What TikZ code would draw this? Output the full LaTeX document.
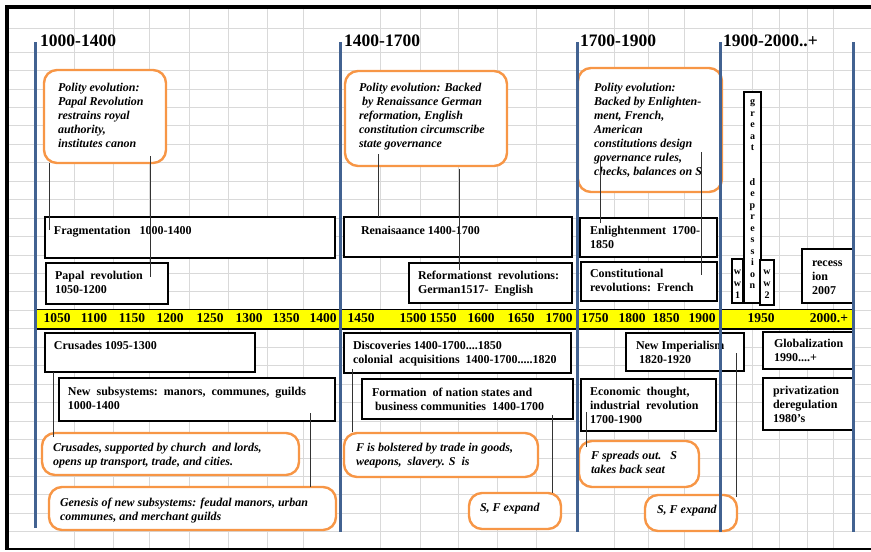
\documentclass[tikz,border=0pt]{standalone}
\usepackage{fontspec}
\setmainfont{Liberation Serif}
\usetikzlibrary{calc}
\definecolor{ribbon}{RGB}{255,255,0}
\definecolor{eraline}{RGB}{66,98,145}
\definecolor{callout}{RGB}{247,150,70}
\definecolor{gridc}{RGB}{217,217,217}
\newcommand{\boxfont}{\fontsize{12}{14}\selectfont\bfseries}
\newcommand{\notefont}{\fontsize{12}{14}\selectfont\bfseries\itshape}
\newcommand{\nxt}{\endgraf}
\begin{document}
\begin{tikzpicture}[x=1pt,y=-1pt,
    gridline/.style={gridc,line width=0.8pt},
    era/.style={eraline,line width=3pt},
    link/.style={black!80,line width=0.7pt},
    period/.style={anchor=base west,inner sep=0pt,font=\fontsize{17.5}{20}\selectfont\bfseries},
    yearlab/.style={inner sep=0pt,font=\fontsize{13.5}{16}\selectfont\bfseries},
    textblock/.style n args={4}{inner sep=0pt,outer sep=0pt,anchor=north west,fill=white,
        execute at begin node={\vbox to #2\bgroup\hsize=#1\relax\vskip#3\relax
            \leftskip=#4\relax\rightskip=0pt plus 1fil\parfillskip=0pt
            \parindent=0pt\parskip=0pt\noindent\rule{0pt}{8pt}},
        execute at end node={\nxt\vfil\egroup}},
    event/.style n args={4}{textblock={#1}{#2}{#3}{#4},draw=black,line width=2.4pt,font=\boxfont},
    note/.style n args={4}{textblock={#1}{#2}{#3}{#4},draw=callout,line width=2.4pt,rounded corners=13pt,font=\notefont},
    letters/.style={font=\fontsize{10}{12}\selectfont\bfseries}]
\useasboundingbox (0,0) rectangle (871,552);
\foreach \x in {74,113,149,189,228,267,303,380,420,458,497,536,614,648,684,752,779,807,833} {
        \draw[gridline] (\x,9) -- (\x,549);
    }
\draw[gridline] (9,28) -- (871,28);
\foreach \i in {0,...,26} {
        \draw[gridline] (9,{52+18.45*\i}) -- (871,{52+18.45*\i});
    }
\draw[line width=4pt] (871,7) -- (7,7) -- (7,549);
\draw[line width=2.4pt] (5,549) -- (871,549);

\fill[ribbon] (35,309) rectangle (853,328);
\draw[line width=0.8pt] (35,309) -- (853,309);
\draw[line width=2pt] (35,329) -- (853,329);
\foreach \x/\yr [count=\i] in {57/1050,94/1100,132/1150,170/1200,210/1250,249/1300,286/1350,323/1400,
        361/1450,413/1500,443/1550,481/1600,521/1650,559/1700,
        595/1750,632/1800,666/1850,702/1900,761/1950,829/2000.+} {
        \node[yearlab] (yr\i) at (\x,318.5) {\yr};
    }

\node[period] (eraA) at (40,46) {1000-1400};
\node[period] (eraB) at (344,46) {1400-1700};
\node[period] (eraC) at (580,46) {1700-1900};
\node[period] (eraD) at (723,46) {1900-2000..+};

\node[note={122pt}{93pt}{13pt}{14pt}] (polA) at (44,70) {Polity evolution:\nxt Papal Revolution\nxt restrains royal\nxt authority,\nxt institutes canon};
\node[note={162pt}{95pt}{12pt}{14pt}] (polB) at (345,71) {Polity evolution: Backed\nxt\ by Renaissance German\nxt reformation, English\nxt constitution circumscribe\nxt state governance};
\node[note={144pt}{124pt}{15pt}{16pt}] (polC) at (578,68) {Polity evolution:\nxt Backed by Enlighten-\nxt ment, French,\nxt American\nxt constitutions design\nxt governance rules,\nxt checks, balances on S};

\node[event={290pt}{41pt}{9pt}{9pt}] (frag) at (45,217) {Fragmentation\ \ \ 1000-1400};
\node[event={122pt}{41pt}{8pt}{9pt}] (papal) at (46,263) {Papal\ \ revolution\nxt 1050-1200};
\node[event={228pt}{40pt}{9pt}{17pt}] (renai) at (344,217) {Renaisaance 1400-1700};
\node[event={163pt}{40pt}{8pt}{9pt}] (reform) at (409,263) {Reformationst\ \ revolutions:\nxt German1517-\ \ English};
\node[event={137pt}{39pt}{8pt}{10pt}] (enlight) at (580,218) {Enlightenment\ \ 1700-\nxt 1850};
\node[event={136pt}{39pt}{7pt}{9pt}] (constit) at (581,262) {Constitutional\nxt revolutions:\ \ French};
\node[event={11pt}{44pt}{7.5pt}{0pt plus 1fil},letters] (wwone) at (732,259) {w\nxt w\nxt 1};
\node[event={17pt}{211pt}{4.5pt}{0pt plus 1fil},letters,font=\fontsize{10}{11.5}\selectfont\bfseries] (depress) at (744,92)
    {g\nxt r\nxt e\nxt a\nxt t\nxt\vskip23pt\relax d\nxt e\nxt p\nxt r\nxt e\nxt s\nxt s\nxt i\nxt o\nxt n};
\node[event={14pt}{45pt}{6.5pt}{0pt plus 1fil},letters] (wwtwo) at (760,260) {w\nxt w\nxt 2};
\node[event={51pt}{54pt}{9pt}{10pt}] (recess) at (802,249) {recess\nxt ion\nxt 2007};

\node[event={210pt}{39pt}{8pt}{9pt}] (crus) at (45,333) {Crusades\ 1095-1300};
\node[event={276pt}{43pt}{9pt}{9pt}] (subsys) at (59,378) {New\ \ subsystems:\ \ manors,\ \ communes,\ \ guilds\nxt 1000-1400};
\node[event={227pt}{40pt}{8pt}{9pt}] (discov) at (344,333) {Discoveries 1400-1700....1850\nxt colonial\ \ acquisitions\ \ 1400-1700.....1820};
\node[event={211pt}{40pt}{9pt}{10pt}] (nation) at (362,379) {Formation\ \ of nation states and\nxt\ business communities\ \ 1400-1700};
\node[event={118pt}{38pt}{8pt}{10pt}] (imper) at (626,333) {New Imperialism\nxt\ 1820-1920};
\node[event={90pt}{37pt}{7pt}{11pt}] (global) at (763,332) {Globalization\nxt 1990....+};
\node[event={135pt}{52pt}{8pt}{9pt}] (econ) at (581,379) {Economic\ \ thought,\nxt industrial\ \ revolution\nxt 1700-1900};
\node[event={90pt}{52pt}{8pt}{10pt}] (privat) at (763,378) {privatization\nxt deregulation\nxt 1980's};

\node[note={257pt}{42pt}{10pt}{11pt}] (crusC) at (42,433) {Crusades, supported by church\ \ and lords,\nxt opens up transport, trade, and cities.};
\node[note={287pt}{43pt}{11pt}{11pt}] (genC) at (49,487) {Genesis of new subsystems: feudal manors, urban\nxt communes, and merchant guilds};
\node[note={194pt}{44pt}{10pt}{12pt}] (boostC) at (344,433) {F is bolstered by trade in goods,\nxt weapons,\ \ slavery. S\ \ is};
\node[note={92pt}{36pt}{10pt}{11pt}] (expA) at (469,493) {S, F expand};
\node[note={120pt}{46pt}{10pt}{12pt}] (spreadC) at (579,441) {F spreads out.\ \ \ S\nxt takes back seat};
\node[note={92pt}{36pt}{10pt}{12pt}] (expB) at (645,495) {S, F expand};

\draw[link] ($(polA.south west)+(5,0)$) -- ($(frag.north west)+(4,13)$);
\draw[link] ($(polA.south east)+(-16,-7)$) -- ($(papal.north west)+(104,14)$);
\draw[link] ($(polB.south west)+(33,-12)$) -- ($(renai.north west)+(34,0)$);
\draw[link] ($(polB.south west)+(114,3)$) -- ($(reform.north west)+(50,7)$);
\draw[link] ($(polC.south west)+(22,-32)$) -- ($(enlight.north west)+(20,5)$);
\draw[link] ($(polC.south east)+(-21,-40)$) -- ($(constit.north west)+(120,13)$);
\draw[link] ($(crus.south west)+(8,0)$) -- ($(crusC.north west)+(11,4)$);
\draw[link] ($(subsys.north west)+(251,35)$) -- ($(genC.north west)+(261,0)$);
\draw[link] ($(discov.south west)+(8,-4)$) -- ($(boostC.north west)+(8,-1)$);
\draw[link] ($(nation.south west)+(190,-4)$) -- ($(expA.north west)+(83,0)$);
\draw[link] ($(econ.north west)+(5,33)$) -- ($(spreadC.north west)+(7,6)$);
\draw[link] ($(imper.north west)+(110,20)$) -- ($(expB.north west)+(91,2)$);

\foreach \x/\b in {35/528,340/532,577/532,720/532,853/532} {
        \draw[era] (\x,42) -- (\x,\b);
    }
\end{tikzpicture}
\end{document}
